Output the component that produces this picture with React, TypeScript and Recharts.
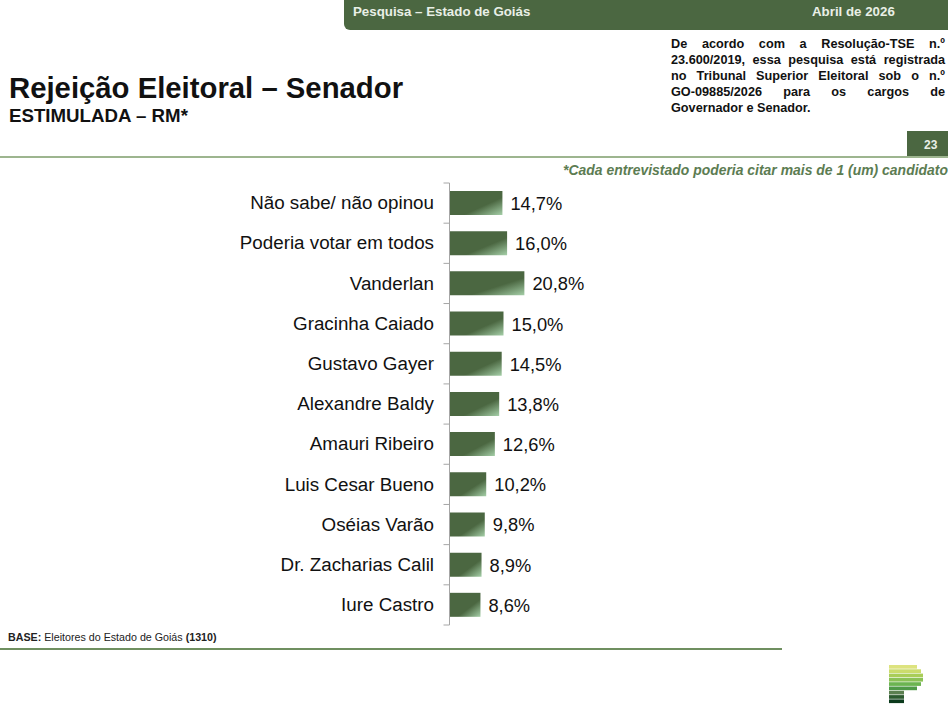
import { BarChart, Bar, XAxis, YAxis, LabelList } from 'recharts';

const categories = [
  'Não sabe/ não opinou',
  'Poderia votar em todos',
  'Vanderlan',
  'Gracinha Caiado',
  'Gustavo Gayer',
  'Alexandre Baldy',
  'Amauri Ribeiro',
  'Luis Cesar Bueno',
  'Oséias Varão',
  'Dr. Zacharias Calil',
  'Iure Castro',
];
const values = [14.7, 16.0, 20.8, 15.0, 14.5, 13.8, 12.6, 10.2, 9.8, 8.9, 8.6];
const noteLines = [
  'De acordo com a Resolução-TSE n.º',
  '23.600/2019, essa pesquisa está registrada',
  'no Tribunal Superior Eleitoral sob o n.º',
  'GO-09885/2026 para os cargos de',
];
const noteLastLine = 'Governador e Senador.';
const logoWidths = [28, 32, 34, 34, 32, 28, 15, 15, 15];
const logoColors = ['#dde37f', '#cbdc6c', '#a9cd58', '#8cc256', '#6cb450', '#4f9a47', '#5b7f50', '#2d5a30', '#0b3a1c'];

const data = categories.map((name, i) => ({ name, value: values[i] }));

const GREEN = '#4b6741';
const FONT = '"Liberation Sans", Arial, sans-serif';
const PLOT_HEIGHT = 442;
const BAND = PLOT_HEIGHT / categories.length;

const put = (left: number, top: number, extra: React.CSSProperties = {}): React.CSSProperties => ({
  position: 'absolute',
  left,
  top,
  whiteSpace: 'nowrap',
  ...extra,
});

// name plus the tick marks, which sit between the bars and not at the band centre
const NameTick = ({ x, y, payload, index }: any) => (
  <g>
    <text x={x - 15.5} y={y - 0.5} dy="0.355em" textAnchor="end" fontSize={18.8} fill="#111" fontFamily={FONT}>
      {payload.value}
    </text>
    <line x1={x - 6} x2={x} y1={y - BAND / 2} y2={y - BAND / 2} stroke="#a6a6a6" />
    {index === categories.length - 1 && (
      <line x1={x - 6} x2={x} y1={y + BAND / 2} y2={y + BAND / 2} stroke="#a6a6a6" />
    )}
  </g>
);

export default function App() {
  return (
    <div style={{ position: 'absolute', left: 0, top: 0, width: 948, height: 711, background: '#fff', overflow: 'hidden', fontFamily: FONT }}>
      <div style={put(344, 0, { width: 604, height: 30, background: GREEN, borderBottomLeftRadius: 6 })} />
      <div style={put(353, 4, { color: '#e9efe6', fontSize: 13.3, fontWeight: 700, lineHeight: '15px' })}>Pesquisa – Estado de Goiás</div>
      <div style={put(812, 4, { color: '#e9efe6', fontSize: 13.3, fontWeight: 700, lineHeight: '15px' })}>Abril de 2026</div>

      <div style={put(671, 36, { width: 274, fontSize: 12.7, fontWeight: 700, lineHeight: '16px', color: '#111' })}>
        {noteLines.map((line) => (
          <div key={line} style={{ textAlign: 'justify', textAlignLast: 'justify', whiteSpace: 'normal' }}>{line}</div>
        ))}
        <div>{noteLastLine}</div>
      </div>

      <div style={put(9, 70, { fontSize: 29.3, fontWeight: 700, lineHeight: '35px', color: '#111' })}>Rejeição Eleitoral – Senador</div>
      <div style={put(9, 105, { fontSize: 18.7, fontWeight: 700, lineHeight: '21px', color: '#111' })}>ESTIMULADA – RM*</div>

      <div style={put(907, 131, { width: 47, height: 26, background: GREEN, color: '#e9efe6', fontSize: 12, fontWeight: 700, lineHeight: '28px', textAlign: 'left', textIndent: 17 })}>23</div>
      <div style={put(0, 156, { width: 948, height: 2, background: '#9db58f' })} />
      <div style={put(563, 163, { fontSize: 13.95, fontWeight: 700, fontStyle: 'italic', lineHeight: '15px', color: '#5c7c52' })}>
        *Cada entrevistado poderia citar mais de 1 (um) candidato
      </div>

      <div style={{ position: 'absolute', left: 0, top: 0 }}>
        <BarChart
          width={948}
          height={711}
          layout="vertical"
          data={data}
          margin={{ top: 183, bottom: 86, left: 0, right: 138.5 }}
          barCategoryGap={16}
        >
          <defs>
            <linearGradient id="barFill" x1="0" y1="0" x2="1" y2="1">
              <stop offset="0%" stopColor="#4b6741" />
              <stop offset="63%" stopColor="#4b6741" />
              <stop offset="100%" stopColor="#a5cfa8" />
            </linearGradient>
          </defs>
          <XAxis type="number" domain={[0, 100]} hide />
          <YAxis
            dataKey="name"
            type="category"
            width={449.5}
            axisLine={{ stroke: '#a6a6a6' }}
            tickLine={false}
            tickSize={0}
            tickMargin={0}
            interval={0}
            tick={<NameTick />}
          />
          <Bar dataKey="value" fill="url(#barFill)" barSize={24} isAnimationActive={false}>
            <LabelList
              dataKey="value"
              position="right"
              offset={8}
              dy={0.5}
              formatter={(v: any) => `${Number(v).toFixed(1).replace('.', ',')}%`}
              style={{ fontSize: 18.3, fill: '#111', fontFamily: FONT }}
            />
          </Bar>
        </BarChart>
      </div>

      <div style={put(8, 631, { fontSize: 10.7, lineHeight: '13px', color: '#222' })}>
        <b>BASE:</b> Eleitores do Estado de Goiás <b>(1310)</b>
      </div>
      <div style={put(0, 648, { width: 782, height: 1.5, background: '#6f8f60' })} />

      <svg style={put(889, 665)} width={36} height={40}>
        {logoWidths.map((w, i) => (
          <rect key={i} x={0} y={i * 4.3} width={w} height={3.7} fill={logoColors[i]} />
        ))}
      </svg>
    </div>
  );
}
